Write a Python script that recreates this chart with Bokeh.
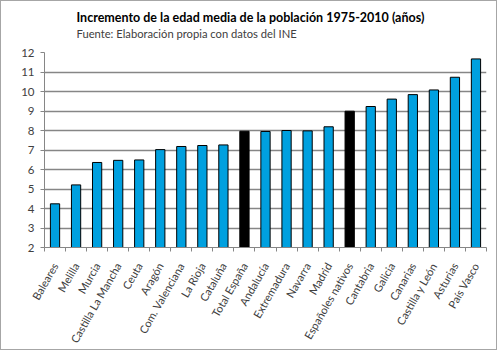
from bokeh.plotting import figure
from bokeh.models import FixedTicker, Title, Range1d
from bokeh.embed import file_html
from bokeh.resources import INLINE

categories = ["Baleares", "Melilla", "Murcia", "Castilla La Mancha", "Ceuta", "Aragón",
              "Com. Valenciana", "La Rioja", "Cataluña", "Total España", "Andalucía",
              "Extremadura", "Navarra", "Madrid", "Españoles nativos", "Cantabria",
              "Galicia", "Canarias", "Castilla y León", "Asturias", "País Vasco"]
values = [4.24, 5.21, 6.36, 6.47, 6.49, 7.02, 7.18, 7.23, 7.26, 7.96, 7.95,
          8.00, 7.98, 8.19, 8.99, 9.23, 9.61, 9.84, 10.08, 10.73, 11.67]
highlight = ["Total España", "Españoles nativos"]
y_ticks = [2, 3, 4, 5, 6, 7, 8, 9, 10, 11, 12]
title = "Incremento de la edad media de la población 1975-2010 (años)"
subtitle = "Fuente: Elaboración propia con datos del INE"

FONT = "Lato"
n = len(categories)
xs = [i + 0.5 for i in range(n)]
colors = ["#000000" if c in highlight else "#00A0DF" for c in categories]

p = figure(width=497, height=350, output_backend="svg", toolbar_location=None,
           x_range=Range1d(0, n), y_range=Range1d(2, 12),
           min_border_left=43, min_border_right=12, min_border_top=51, min_border_bottom=104)
p.styles = {"border": "1px solid #A6A6A6"}
p.outline_line_color = None
p.background_fill_color = "white"
p.border_fill_color = "white"

p.vbar(x=xs, top=values, bottom=2, width=0.44, fill_color=colors,
       line_color="black", line_width=1)

# titles: spacer (closest to plot), subtitle, title
p.add_layout(Title(text=" ", text_font_size="1px", standoff=10), "above")
p.add_layout(Title(text=subtitle, align="left", offset=32,
                   text_font=FONT, text_font_size="11.2px", text_font_style="normal",
                   text_color="#404040", standoff=0), "above")
p.add_layout(Title(text=title, align="left", offset=32, text_font=FONT,
                   text_font_size="12.5px", text_font_style="bold",
                   text_color="#000000", standoff=0), "above")

# y axis
p.yaxis.ticker = FixedTicker(ticks=y_ticks)
p.yaxis.axis_line_color = "#868686"
p.yaxis.major_tick_line_color = "#868686"
p.yaxis.major_tick_out = 4
p.yaxis.major_tick_in = 0
p.yaxis.minor_tick_line_color = None
p.yaxis.major_label_text_font = FONT
p.yaxis.major_label_text_font_size = "11.5px"
p.yaxis.major_label_text_color = "#404040"
p.yaxis.major_label_standoff = 6

# x axis
p.xaxis.ticker = FixedTicker(ticks=xs, minor_ticks=list(range(n + 1)))
p.xaxis.major_label_overrides = {x: c for x, c in zip(xs, categories)}
p.xaxis.major_tick_line_color = None
p.xaxis.major_tick_out = 0
p.xaxis.major_tick_in = 0
p.xaxis.minor_tick_line_color = "#868686"
p.xaxis.minor_tick_out = 4
p.xaxis.minor_tick_in = 0
p.xaxis.axis_line_color = "#868686"
p.xaxis.major_label_orientation = 1.05
p.xaxis.major_label_text_font = FONT
p.xaxis.major_label_text_font_size = "11px"
p.xaxis.major_label_text_color = "#404040"
p.xaxis.major_label_standoff = 12

p.xgrid.grid_line_color = None
p.ygrid.ticker = FixedTicker(ticks=y_ticks)
p.ygrid.grid_line_color = "#868686"
p.ygrid.grid_line_width = 1.5

open("out.html", "w").write(file_html(p, INLINE))
